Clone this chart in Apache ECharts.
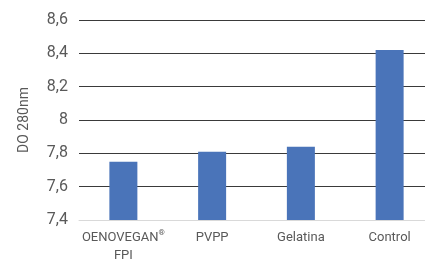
<!DOCTYPE html>
<html>
<head>
<meta charset="utf-8">
<script src="https://cdn.jsdelivr.net/npm/echarts@6/dist/echarts.min.js"></script>
<style>
  html, body { margin: 0; padding: 0; background: #fff; }
  #do-chart { width: 425px; height: 259px; }
</style>
</head>
<body>
<div id="do-chart"></div>
<script>
// categorie e valori
const categories = ["OENOVEGAN®\nFPI", "PVPP", "Gelatina", "Control"];
const doValues = [7.75, 7.81, 7.84, 8.42];
const yTicks = [7.4, 8.6, 0.2]; // min, max, passo

const chart = echarts.init(document.getElementById("do-chart"));

const option = {
  animation: false,
  grid: {
    left: 79,
    top: 20,
    width: 355,
    height: 200,
    outerBoundsMode: "none"
  },
  xAxis: {
    type: "category",
    data: categories,
    axisTick: { show: false },
    axisLine: { lineStyle: { color: "#d9d9d9", width: 1 } },
    axisLabel: {
      interval: 0,
      color: "#595959",
      fontFamily: "Roboto",
      fontSize: 13,
      lineHeight: 18,
      margin: 9,
      // ® piccolo in apice
      formatter: v => v.replace("®", "{sup|®}"),
      rich: {
        sup: {
          fontSize: 8,
          color: "#595959",
          fontFamily: "Roboto",
          verticalAlign: "top",
          padding: [0, 0, 6, 0]
        }
      }
    }
  },
  yAxis: {
    type: "value",
    min: yTicks[0],
    max: yTicks[1],
    interval: yTicks[2],
    name: "DO 280nm",
    nameLocation: "middle",
    nameGap: 48,
    nameTextStyle: {
      color: "#595959",
      fontFamily: "Roboto",
      fontSize: 14
    },
    axisLine: { show: false },
    axisTick: { show: false },
    axisLabel: {
      color: "#595959",
      fontFamily: "Roboto",
      fontSize: 16,
      margin: 11,
      formatter: v => {
        const s = Number(v.toFixed(1));
        return String(s).replace(".", ",");
      }
    },
    splitLine: {
      lineStyle: { color: "#3a3a3a", width: 1 }
    }
  },
  series: [
    {
      type: "bar",
      data: doValues,
      barWidth: 28,
      itemStyle: { color: "#4a74b9" }
    }
  ]
};

chart.setOption(option);
</script>
</body>
</html>
